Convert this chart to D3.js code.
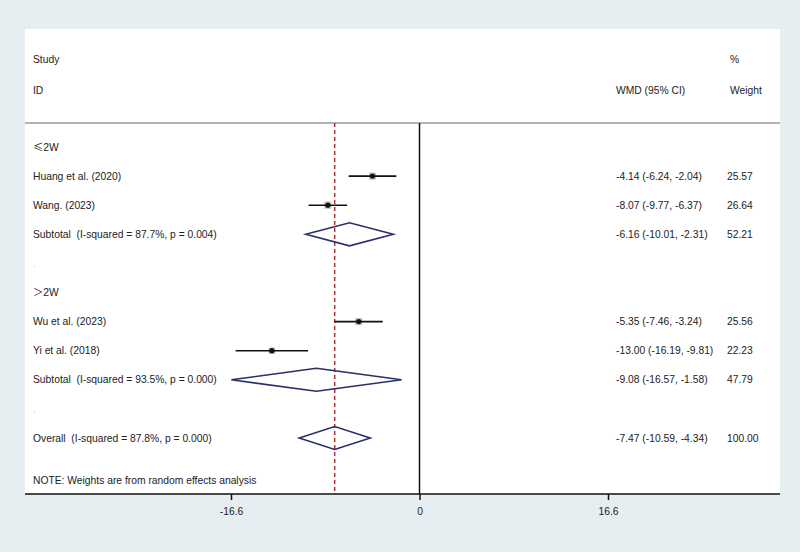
<!DOCTYPE html>
<html lang="en">
<head>
<meta charset="utf-8">
<title>Forest plot</title>
<script src="https://cdn.jsdelivr.net/npm/d3@7"></script>
<style>
  body { margin: 0; background: #e6eef1; }
  text { font-family: "Liberation Sans", Arial, sans-serif; font-size: 10.3px; fill: #222; white-space: pre; }
  tspan.sym { font-family: "Noto Sans CJK SC", sans-serif; }
</style>
</head>
<body>
<script>
// studies
var studyNames = ["Huang et al. (2020)", "Wang. (2023)", "Wu et al. (2023)", "Yi et al. (2018)"];
var studyGroup = [0, 0, 1, 1];
var studyEst = [-4.14, -8.07, -5.35, -13.00];
var studyLo = [-6.24, -9.77, -7.46, -16.19];
var studyHi = [-2.04, -6.37, -3.24, -9.81];
var studyWeight = [25.57, 26.64, 25.56, 22.23];

// subgroups (symbol + rest of label)
var groupSymbols = ["\u2264", "\uff1e"];
var groupNames = ["2W", "2W"];
var subLabels = ["Subtotal  (I-squared = 87.7%, p = 0.004)", "Subtotal  (I-squared = 93.5%, p = 0.000)"];
var subEst = [-6.16, -9.08];
var subLo = [-10.01, -16.57];
var subHi = [-2.31, -1.58];
var subWeight = [52.21, 47.79];

// overall
var overallLabel = "Overall  (I-squared = 87.8%, p = 0.000)";
var overallEst = -7.47, overallLo = -10.59, overallHi = -4.34, overallWeight = 100.00;

var tickValues = [-16.6, 0, 16.6];

var width = 800, height = 552;
var svg = d3.select("body").append("svg")
  .attr("width", width)
  .attr("height", height);

var panel = { left: 25, right: 780, top: 29, bottom: 494 };
var sepY = 123;

svg.append("rect")
  .attr("x", panel.left).attr("y", panel.top)
  .attr("width", panel.right - panel.left)
  .attr("height", panel.bottom - panel.top)
  .attr("fill", "white");

var x = d3.scaleLinear().domain([-16.6, 16.6]).range([231, 608]);

// build rows
var rows = [];
for (var g = 0; g < 2; g++) {
  rows.push({ type: "group", sym: groupSymbols[g], label: groupNames[g] });
  for (var i = 0; i < studyNames.length; i++) {
    if (studyGroup[i] !== g) continue;
    rows.push({ type: "study", label: studyNames[i], est: studyEst[i], lo: studyLo[i], hi: studyHi[i], w: studyWeight[i] });
  }
  rows.push({ type: "sub", label: subLabels[g], est: subEst[g], lo: subLo[g], hi: subHi[g], w: subWeight[g] });
  rows.push({ type: "blank", label: "." });
}
rows.push({ type: "sub", label: overallLabel, est: overallEst, lo: overallLo, hi: overallHi, w: overallWeight });

var y = d3.scaleLinear().domain([0, 10]).range([147, 438]);

// plain hyphen instead of unicode minus
function fmt(v) { return d3.format(".2f")(v).replace("\u2212", "-"); }
function ciText(d) {
  return fmt(d.est) + " (" + fmt(d.lo) + ", " + fmt(d.hi) + ")";
}

// header
svg.append("text").attr("x", 33).attr("y", 59).attr("dy", "0.35em").text("Study");
svg.append("text").attr("x", 33).attr("y", 90).attr("dy", "0.35em").text("ID");
svg.append("text").attr("x", 616).attr("y", 90).attr("dy", "0.35em").text("WMD (95% CI)");
svg.append("text").attr("x", 730).attr("y", 59).attr("dy", "0.35em").text("%");
svg.append("text").attr("x", 730).attr("y", 90).attr("dy", "0.35em").text("Weight");

svg.append("line")
  .attr("x1", panel.left).attr("x2", panel.right)
  .attr("y1", sepY).attr("y2", sepY)
  .attr("stroke", "#b4b4b4").attr("stroke-width", 2);

// zero line and overall dashed line
svg.append("line")
  .attr("x1", x(0)).attr("x2", x(0))
  .attr("y1", sepY).attr("y2", panel.bottom)
  .attr("stroke", "#111").attr("stroke-width", 1.5);

svg.append("line")
  .attr("x1", x(overallEst)).attr("x2", x(overallEst))
  .attr("y1", sepY).attr("y2", panel.bottom)
  .attr("stroke", "#a83236").attr("stroke-width", 1.5)
  .attr("stroke-dasharray", "4,3");

// labels
var labs = svg.selectAll("text.lab")
  .data(rows)
  .enter()
  .append("text")
  .attr("class", "lab")
  .attr("x", 33)
  .attr("y", function(d, i) { return y(i); })
  .attr("dy", "0.35em")
  .style("fill", function(d) { return d.type === "blank" ? "#ccc" : "#222"; });

labs.filter(function(d) { return d.type === "group"; })
  .append("tspan").attr("class", "sym").text(function(d) { return d.sym; });
labs.append("tspan").text(function(d) { return d.label; });

var est = rows.filter(function(d) { return d.type === "study" || d.type === "sub"; });

svg.selectAll("text.ci")
  .data(est)
  .enter()
  .append("text")
  .attr("class", "ci")
  .attr("x", 616)
  .attr("y", function(d) { return y(rows.indexOf(d)); })
  .attr("dy", "0.35em")
  .text(ciText);

svg.selectAll("text.wt")
  .data(est)
  .enter()
  .append("text")
  .attr("class", "wt")
  .attr("x", 727)
  .attr("y", function(d) { return y(rows.indexOf(d)); })
  .attr("dy", "0.35em")
  .text(function(d) { return fmt(d.w); });

// study marks
var studies = rows.filter(function(d) { return d.type === "study"; });

svg.selectAll("rect.box")
  .data(studies)
  .enter()
  .append("rect")
  .attr("class", "box")
  .attr("x", function(d) { return x(d.est) - Math.sqrt(d.w) * 0.7; })
  .attr("y", function(d) { return y(rows.indexOf(d)) - Math.sqrt(d.w) * 0.7; })
  .attr("width", function(d) { return Math.sqrt(d.w) * 1.4; })
  .attr("height", function(d) { return Math.sqrt(d.w) * 1.4; })
  .attr("fill", "#c4c4c4");

svg.selectAll("line.ciline")
  .data(studies)
  .enter()
  .append("line")
  .attr("class", "ciline")
  .attr("x1", function(d) { return x(d.lo); })
  .attr("x2", function(d) { return x(d.hi); })
  .attr("y1", function(d) { return y(rows.indexOf(d)); })
  .attr("y2", function(d) { return y(rows.indexOf(d)); })
  .attr("stroke", "#111")
  .attr("stroke-width", 1.6);

svg.selectAll("circle")
  .data(studies)
  .enter()
  .append("circle")
  .attr("cx", function(d) { return x(d.est); })
  .attr("cy", function(d) { return y(rows.indexOf(d)); })
  .attr("r", 2.6)
  .attr("fill", "#111");

// diamonds
var subs = rows.filter(function(d) { return d.type === "sub"; });
svg.selectAll("path.dia")
  .data(subs)
  .enter()
  .append("path")
  .attr("class", "dia")
  .attr("d", function(d) {
    var cy = y(rows.indexOf(d)), h = 11.5;
    return "M" + x(d.lo) + "," + cy + "L" + x(d.est) + "," + (cy - h) +
      "L" + x(d.hi) + "," + cy + "L" + x(d.est) + "," + (cy + h) + "Z";
  })
  .attr("fill", "none")
  .attr("stroke", "#2b2e6b")
  .attr("stroke-width", 1.6);

svg.append("text").attr("x", 33).attr("y", 480).attr("dy", "0.35em")
  .text("NOTE: Weights are from random effects analysis");

// axis
svg.append("line")
  .attr("x1", panel.left).attr("x2", panel.right)
  .attr("y1", panel.bottom).attr("y2", panel.bottom)
  .attr("stroke", "#111").attr("stroke-width", 1.5);

var axis = svg.append("g")
  .attr("transform", "translate(0," + panel.bottom + ")")
  .call(d3.axisBottom(x).tickValues(tickValues).tickSize(6).tickPadding(8)
    .tickFormat(function(d) { return d === 0 ? "0" : d3.format(".1f")(d).replace("\u2212", "-"); }));
axis.select(".domain").remove();
axis.selectAll(".tick line").attr("stroke", "#111").attr("stroke-width", 1.5);
axis.selectAll(".tick text").style("font-size", "10.3px").style("fill", "#222");
</script>
</body>
</html>
